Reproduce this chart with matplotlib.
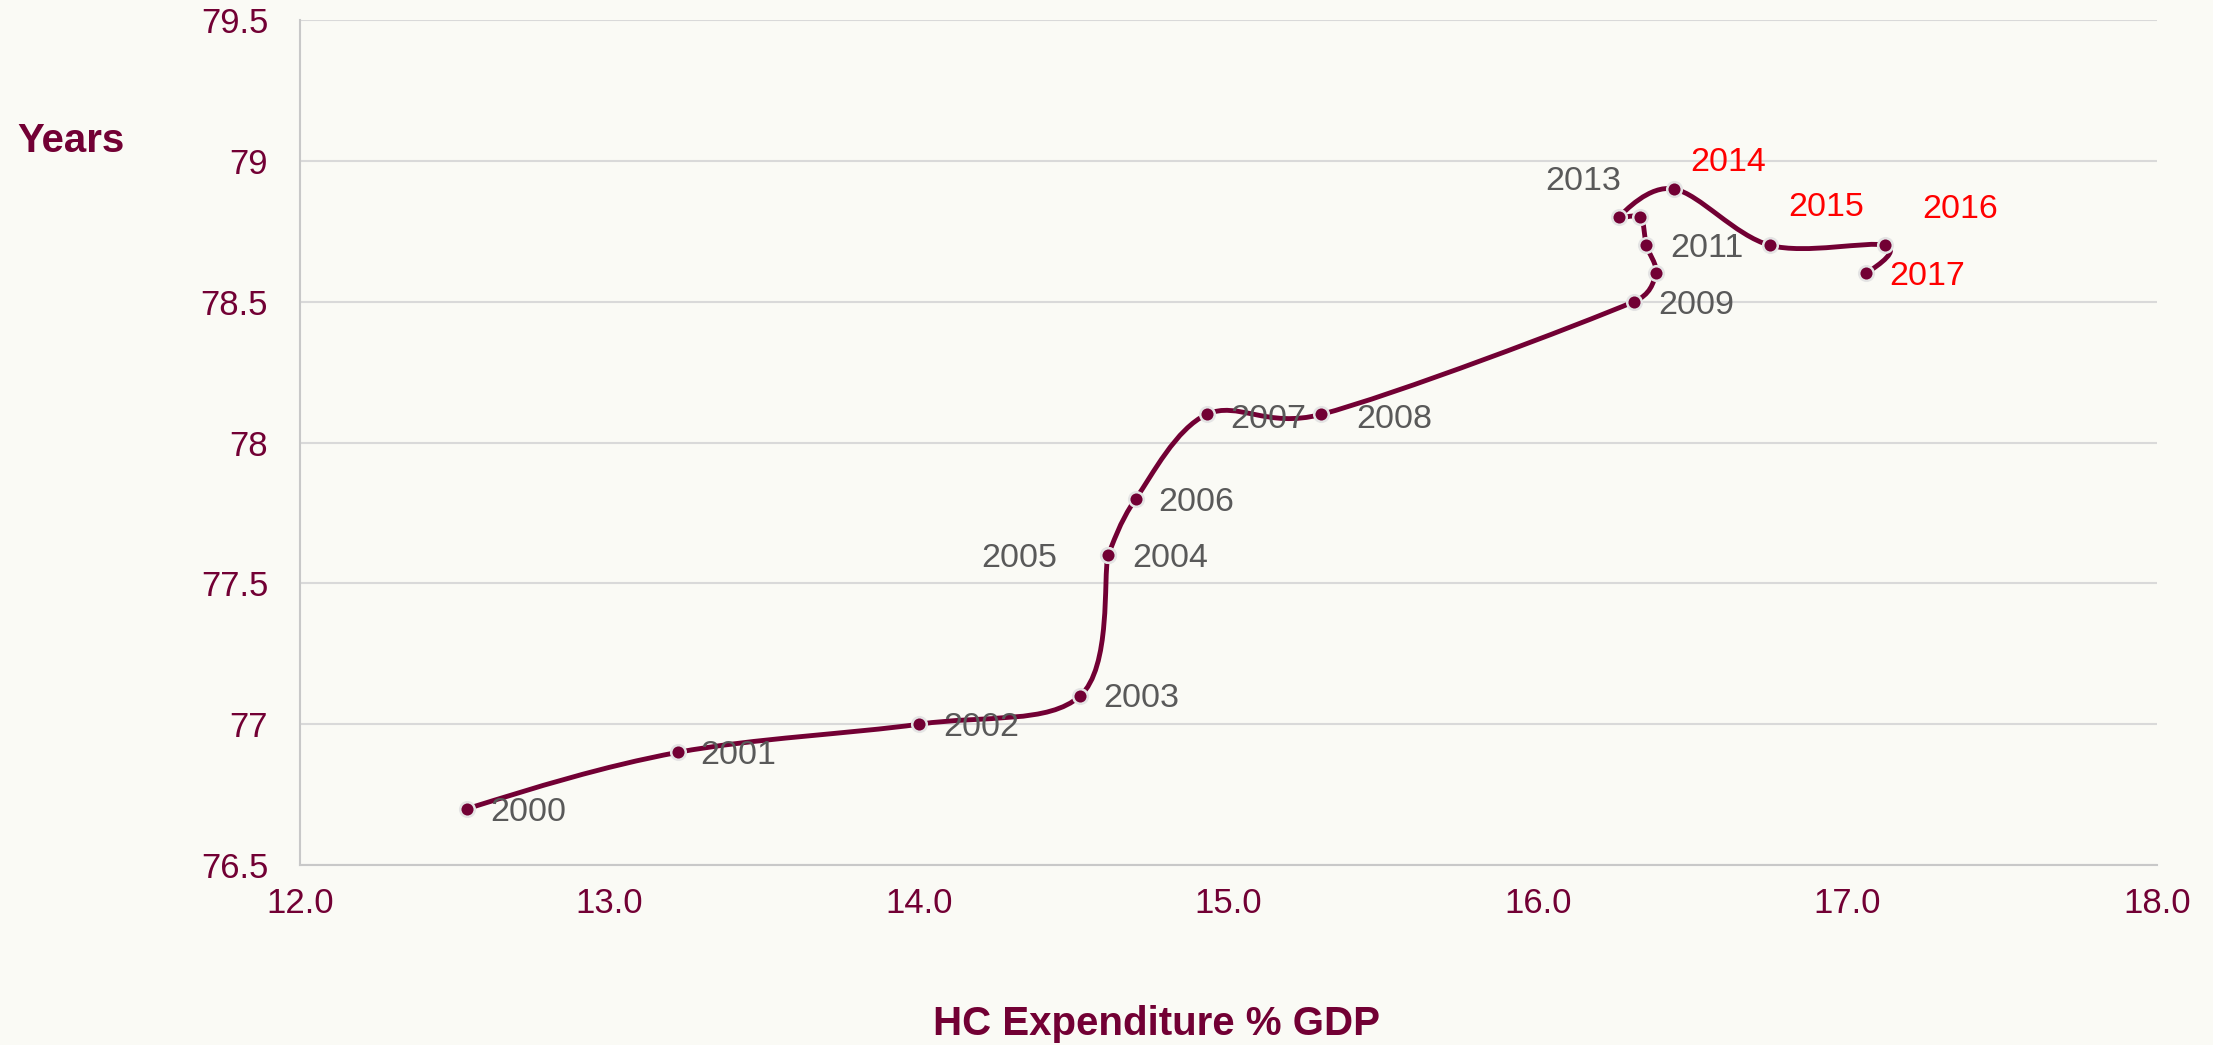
import numpy as np
import matplotlib.pyplot as plt
from matplotlib.path import Path
from matplotlib.patches import PathPatch

plt.rcParams['font.family'] = ['Liberation Sans', 'DejaVu Sans']

years = [2000, 2001, 2002, 2003, 2004, 2005, 2006, 2007, 2008, 2009,
         2010, 2011, 2012, 2013, 2014, 2015, 2016, 2017]
hc_gdp = [12.54, 13.22, 14.00, 14.52, 14.61, 14.61, 14.70, 14.93, 15.30, 16.31,
          16.38, 16.35, 16.33, 16.26, 16.44, 16.75, 17.12, 17.06]
life_exp = [76.7, 76.9, 77.0, 77.1, 77.6, 77.6, 77.8, 78.1, 78.1, 78.5,
            78.6, 78.7, 78.8, 78.8, 78.9, 78.7, 78.7, 78.6]
red_years = [2014, 2015, 2016, 2017]

x_ticks = [12.0, 13.0, 14.0, 15.0, 16.0, 17.0, 18.0]
y_ticks = [76.5, 77, 77.5, 78, 78.5, 79, 79.5]

# label placement: (dx px, dy px from point to text baseline, ha)
lab_pos = {2000: (23, -12, 'left'), 2001: (23, -12, 'left'), 2002: (24, -12, 'left'),
           2003: (23, -11, 'left'), 2004: (24, -12, 'left'), 2005: (-51, -12, 'right'),
           2006: (23, -12, 'left'), 2007: (23, -14, 'left'), 2008: (35, -14, 'left'),
           2009: (24, -12, 'left'), 2011: (24, -12, 'left'), 2013: (3, 27, 'right'),
           2014: (16, 18, 'left'), 2015: (18, 29, 'left'), 2016: (38, 27, 'left'),
           2017: (23, -12, 'left')}

maroon = '#720034'
bg = '#FAFAF5'

fig = plt.figure(figsize=(22.13, 10.45), dpi=100, facecolor=bg)
ax = fig.add_axes([0.1356, 0.1722, 0.8391, 0.8087])
ax.set_facecolor(bg)
ax.set_xlim(12, 18)
ax.set_ylim(76.5, 79.5)

# smoothed line like excel: bezier through points, control arms capped
pix = ax.transData.transform(np.column_stack([hc_gdp, life_exp]))
n = len(pix)
verts = [pix[0]]
codes = [Path.MOVETO]
for i in range(n - 1):
    p1 = pix[i]
    p2 = pix[i + 1]
    seg = np.hypot(*(p2 - p1))
    if i == 0:
        a = (3 * (p2 - p1) - (pix[2] - pix[0]) / 2) / 6
    else:
        a = (p2 - pix[i - 1]) / 6
    if i == n - 2:
        b = (3 * (p2 - p1) - (pix[n - 1] - pix[n - 3]) / 2) / 6
    else:
        b = (pix[i + 2] - p1) / 6
    la = np.hypot(*a)
    lb = np.hypot(*b)
    if la > seg / 2 and la > 0:
        a = a * (seg / 2) / la
    if lb > seg / 2 and lb > 0:
        b = b * (seg / 2) / lb
    verts += [p1 + a, p2 - b, p2]
    codes += [Path.CURVE4] * 3
dverts = ax.transData.inverted().transform(np.array(verts))
ax.add_patch(PathPatch(Path(dverts, codes), facecolor='none', edgecolor=maroon,
                       lw=3.5, zorder=3, capstyle='round', joinstyle='round'))

ax.plot(hc_gdp, life_exp, 'o', ls='none', ms=10.5, mfc=maroon, mec='#E4E4E4',
        mew=1.8, zorder=4)

for yr, xv, yv in zip(years, hc_gdp, life_exp):
    if yr not in lab_pos:
        continue
    dx, dy, ha = lab_pos[yr]
    col = '#FF0000' if yr in red_years else '#595959'
    ax.annotate(str(yr), (xv, yv), xytext=(dx, dy), textcoords='offset pixels',
                ha=ha, va='baseline', fontsize=24.5, color=col, zorder=5)

ax.set_xticks(x_ticks)
ax.set_xticklabels(['%.1f' % v for v in x_ticks])
ax.set_yticks(y_ticks)
ax.set_yticklabels(['%g' % v for v in y_ticks])
ax.tick_params(length=0, labelsize=25, labelcolor=maroon)
ax.tick_params(axis='y', pad=23)
ax.tick_params(axis='x', pad=16)
ax.grid(axis='y', color='#D9D9D9', lw=1.5)
ax.set_axisbelow(True)
for s in ['top', 'right']:
    ax.spines[s].set_visible(False)
for s in ['left', 'bottom']:
    ax.spines[s].set_color('#C8C8C8')
    ax.spines[s].set_linewidth(1.5)

fig.text(0.0321, 0.8548, 'Years', fontsize=29, fontweight='bold', color=maroon,
         ha='center', va='baseline')
fig.text(0.5224, 0.0096, 'HC Expenditure % GDP', fontsize=29, fontweight='bold',
         color=maroon, ha='center', va='baseline')

fig.savefig('out.png', dpi=100, facecolor=bg)
